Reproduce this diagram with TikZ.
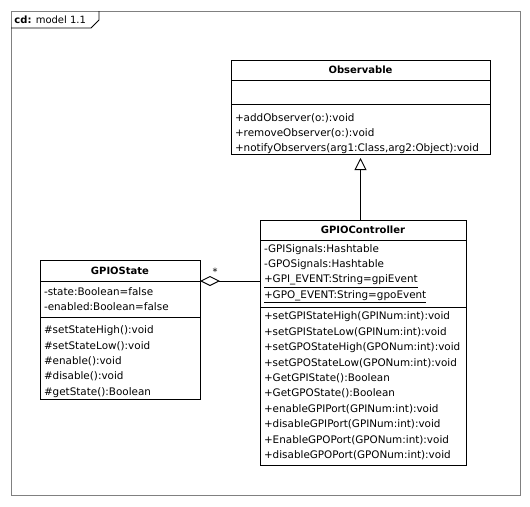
\documentclass[tikz,border=0pt]{standalone}
\usepackage{fontspec}
\setmainfont{DejaVu Sans}
\usetikzlibrary{positioning,arrows.meta}

\begin{document}
\begin{tikzpicture}[x=1pt, y=-1pt, line width=0.9pt,
    part/.style={draw, inner xsep=4pt, inner ysep=0pt, outer sep=0pt, align=left, font=\fontsize{10.4}{15.4}\selectfont},
    head/.style={part, align=center, minimum height=20pt, font=\fontsize{10}{12}\selectfont\bfseries},
    aggr/.style={arrows={Diamond[open, length=20pt, width=10pt]-}},
    inherit/.style={arrows={-Triangle[open, length=12pt, width=12pt]}, shorten >=4pt}]
    \useasboundingbox (0,0) rectangle (530,506);
    % frame
    \draw[gray] (11,11) rectangle (520,495);
    \draw (11,28) -- (91,28) -- (99,20) -- (99,11);
    \node[anchor=west, inner sep=0pt, font=\fontsize{10}{12}\selectfont] (tag) at (14,19.5) {\textbf{cd:} model 1.1};
    % Observable
    \node[head, text width=251pt] (obs) at (360.5,70) {Observable};
    \node[part, text width=251pt, minimum height=24pt, below=0pt of obs] (obs-attr) {};
    \node[part, text width=251pt, minimum height=50pt, below=0pt of obs-attr] (obs-ops) {\rule{0pt}{17pt}+addObserver(o:):void\\+removeObserver(o:):void\\+notifyObservers(arg1:Class,arg2:Object):void};
    % GPIOController
    \node[head, text width=198pt] (ctl) at (363,230) {GPIOController};
    \node[part, text width=198pt, minimum height=67pt, below=0pt of ctl] (ctl-attr) {-GPISignals:Hashtable\\-GPOSignals:Hashtable\\\underline{+GPI\_EVENT:String=gpiEvent}\\\underline{+GPO\_EVENT:String=gpoEvent}};
    \node[part, text width=198pt, minimum height=158pt, below=0pt of ctl-attr] (ctl-ops) {+setGPIStateHigh(GPINum:int):void\\+setGPIStateLow(GPINum:int):void\\+setGPOStateHigh(GPONum:int):void\\+setGPOStateLow(GPONum:int):void\\+GetGPIState():Boolean\\+GetGPOState():Boolean\\+enableGPIPort(GPINum:int):void\\+disableGPIPort(GPINum:int):void\\+EnableGPOPort(GPONum:int):void\\+disableGPOPort(GPONum:int):void};
    % GPIOState
    \node[head, text width=152pt, minimum height=21pt] (state) at (120,270.5) {GPIOState};
    \node[part, text width=152pt, minimum height=36pt, below=0pt of state] (state-attr) {-state:Boolean=false\\-enabled:Boolean=false};
    \node[part, text width=152pt, minimum height=82pt, below=0pt of state-attr] (state-ops) {\rule{0pt}{15pt}\#setStateHigh():void\\\#setStateLow():void\\\#enable():void\\\#disable():void\\\#getState():Boolean};
    \path[aggr] (state.south east) edge node[pos=0.25, above=5pt, inner sep=0pt] {*} (state.south east -| ctl-attr.west);
    \path[inherit] (obs-ops.south |- ctl.north) edge (obs-ops.south);
\end{tikzpicture}
\end{document}
